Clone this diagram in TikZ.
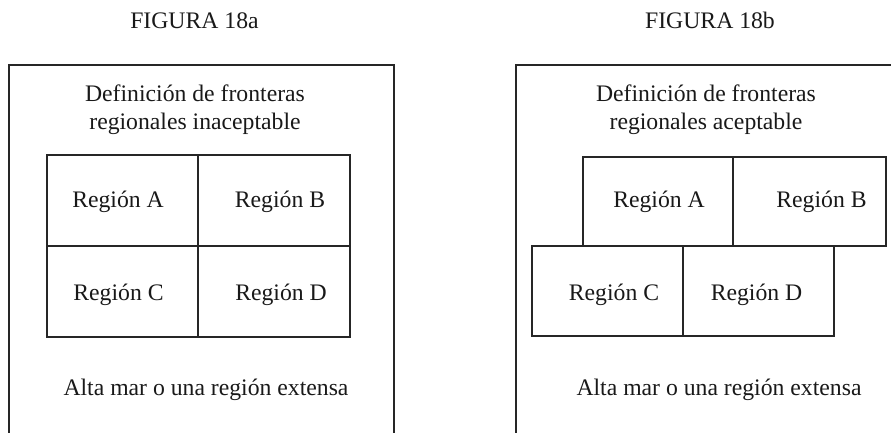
\documentclass[tikz,border=0pt]{standalone}
\usepackage{fontspec}
\setmainfont{Liberation Serif}
\begin{document}
\begin{tikzpicture}[x=1pt,y=-1pt,
  line width=1.2pt,
  txt/.style={anchor=base,inner sep=0pt,font=\fontsize{23.7}{27}\selectfont,text=black!90},
  cell/.style={draw=black!85,line width=1.2pt,inner sep=0pt}]
\useasboundingbox (0,0) rectangle (891,432);
\clip (0,0) rectangle (891,432);
% outer frames (open at bottom / right)
\draw[black!85] (9,440) -- (9,65) -- (394,65) -- (394,440);
\draw[black!85] (516,440) -- (516,65) -- (900,65) -- (900,440);
% titles
\node[txt] (ta) at (194.5,28) {FIGURA 18a};
\node[txt] (tb) at (710,28) {FIGURA 18b};
% left panel
\node[txt] (la1) at (195,101.7) {Definición de fronteras};
\node[txt] (la2) at (195,129) {regionales inaceptable};
\node[cell,minimum width=151pt,minimum height=91pt] (lA) at (122.5,200.5) {};
\node[cell,minimum width=152pt,minimum height=91pt] (lB) at (274,200.5) {};
\node[cell,minimum width=151pt,minimum height=91pt] (lC) at (122.5,291.5) {};
\node[cell,minimum width=152pt,minimum height=91pt] (lD) at (274,291.5) {};
\node[txt] (lAt) at (118,207) {Región A};
\node[txt] (lBt) at (280,207) {Región B};
\node[txt] (lCt) at (118.5,300) {Región C};
\node[txt] (lDt) at (281,300) {Región D};
\node[txt] (lsea) at (206,395) {Alta mar o una región extensa};
% right panel
\node[txt] (ra1) at (706,101.7) {Definición de fronteras};
\node[txt] (ra2) at (706,129) {regionales aceptable};
\node[cell,minimum width=150pt,minimum height=89pt] (rA) at (658,201.5) {};
\node[cell,minimum width=153pt,minimum height=89pt] (rB) at (809.5,201.5) {};
\node[cell,minimum width=151pt,minimum height=90pt] (rC) at (607.5,291) {};
\node[cell,minimum width=151pt,minimum height=90pt] (rD) at (758.5,291) {};
\node[txt] (rAt) at (659,207) {Región A};
\node[txt] (rBt) at (821.5,207) {Región B};
\node[txt] (rCt) at (614,300) {Región C};
\node[txt] (rDt) at (756.5,300) {Región D};
\node[txt] (rsea) at (719,395) {Alta mar o una región extensa};
\end{tikzpicture}
\end{document}
